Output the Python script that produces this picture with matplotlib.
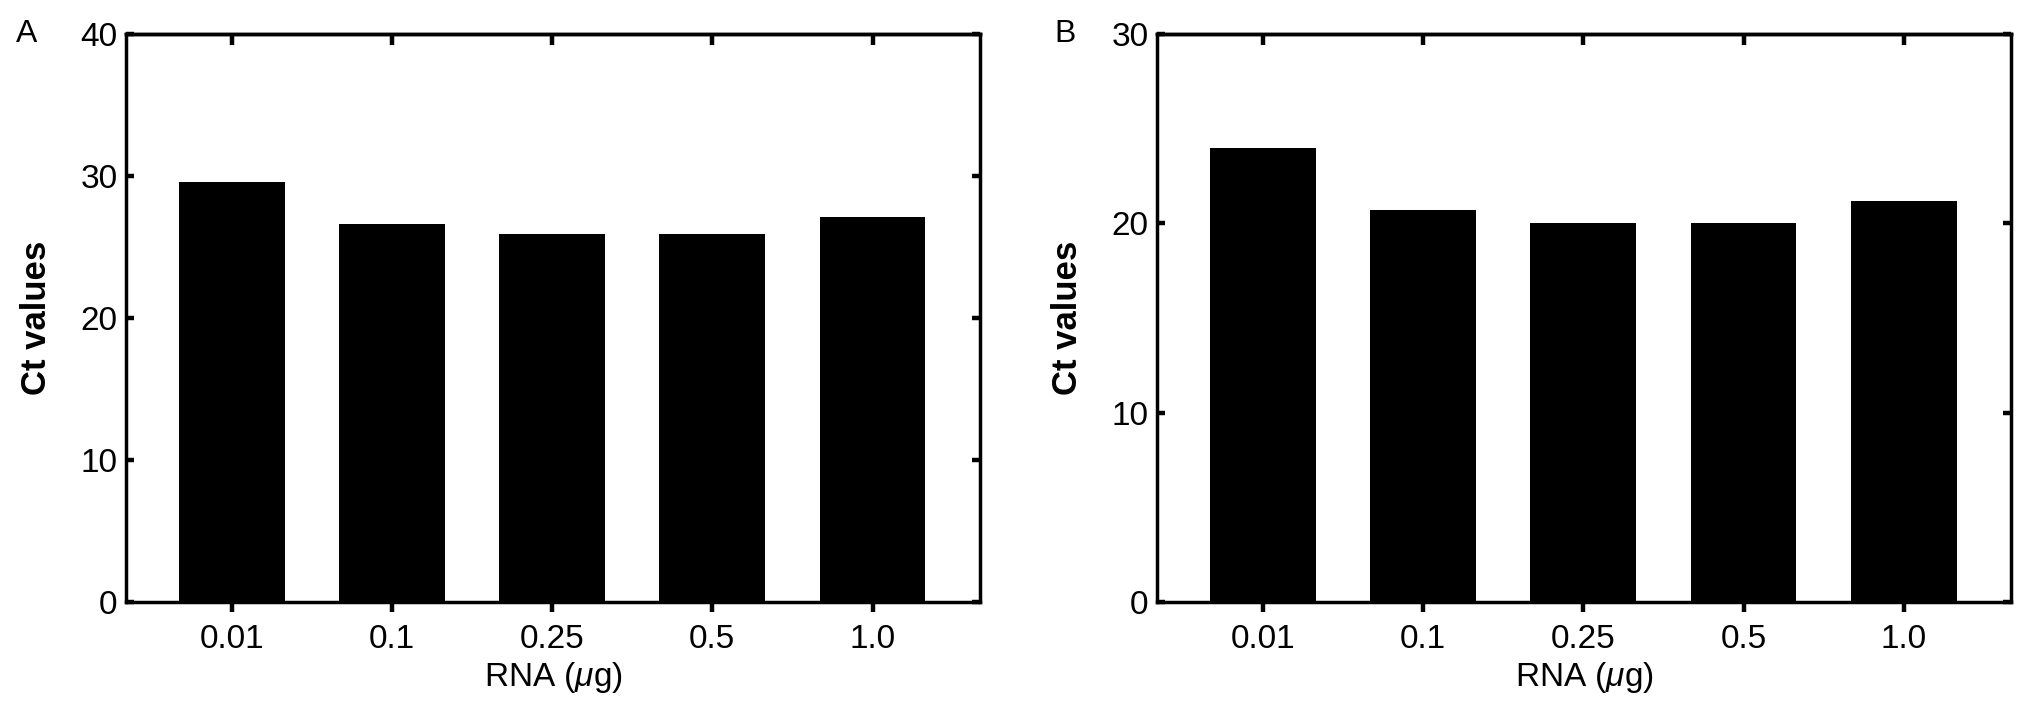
import numpy as np
import matplotlib
matplotlib.use('Agg')
import matplotlib.pyplot as plt

plt.rcParams['font.family'] = ['Liberation Sans', 'DejaVu Sans']
plt.rcParams['mathtext.fontset'] = 'custom'
plt.rcParams['mathtext.it'] = 'Liberation Sans:italic'
plt.rcParams['mathtext.rm'] = 'Liberation Sans'

# Dados
rna_labels = ['0.01', '0.1', '0.25', '0.5', '1.0']
ct_a = [29.6, 26.6, 25.9, 25.9, 27.1]
ct_b = [24.0, 20.7, 20.0, 20.0, 21.2]

fig = plt.figure(figsize=(20.31, 7.11), dpi=100)
ax_a = fig.add_axes([0.0620, 0.1533, 0.4205, 0.7989])
ax_b = fig.add_axes([0.5697, 0.1533, 0.4205, 0.7989])


def painel(ax, valores, ymax):
    x = np.arange(len(valores))
    ax.bar(x, valores, width=0.66, color='black')
    ax.set_xlim(-0.66, len(valores) - 1 + 0.67)
    ax.set_ylim(0, ymax)
    ax.set_yticks(np.arange(0, ymax + 1, 10))
    ax.set_xticks(x)
    ax.set_xticklabels(rna_labels)
    for s in ax.spines.values():
        s.set_linewidth(2.5)
    ax.tick_params(axis='x', direction='out', length=7.5, width=3.2,
                   labelsize=24, pad=8)
    ax.tick_params(axis='y', direction='in', left=True, right=True,
                   length=6, width=3.2, labelsize=24, pad=6)
    # ticks do topo para dentro
    top = ax.secondary_xaxis('top')
    top.set_xticks(x)
    top.tick_params(direction='in', length=8, width=3.2, labeltop=False)
    top.spines['top'].set_linewidth(2.5)
    ax.set_xlabel('RNA ($\\mu$g)', fontsize=24, labelpad=4)
    ax.set_ylabel('Ct values', fontsize=25, fontweight='bold')
    ax.yaxis.set_label_coords(-0.0855, 0.5)


painel(ax_a, ct_a, 40)
painel(ax_b, ct_b, 30)

fig.text(16 / 2031, 0.941, 'A', fontsize=23, va='baseline')
fig.text(1054 / 2031, 0.941, 'B', fontsize=23, va='baseline')

plt.savefig('out.png', dpi=100)
plt.close()
